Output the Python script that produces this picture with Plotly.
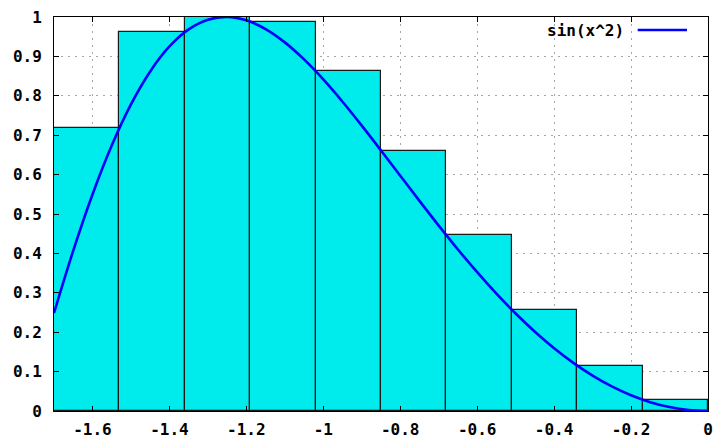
import plotly.graph_objects as go

# Boxes: left edges and heights (each box is 0.17 wide)
box_left = [-1.70, -1.53, -1.36, -1.19, -1.02, -0.85, -0.68, -0.51, -0.34, -0.17]
box_height = [0.719, 0.962, 1.000, 0.988, 0.862, 0.661, 0.446, 0.257, 0.115, 0.029]
box_width = 0.17

# Curve sin(x^2), sampled points
curve_x = [-1.70, -1.65, -1.60, -1.55, -1.50, -1.45, -1.40, -1.35, -1.30, -1.25,
           -1.20, -1.15, -1.10, -1.05, -1.00, -0.95, -0.90, -0.85, -0.80, -0.75,
           -0.70, -0.65, -0.60, -0.55, -0.50, -0.45, -0.40, -0.35, -0.30, -0.25,
           -0.20, -0.15, -0.10, -0.05, 0.00]
curve_y = [0.2489, 0.4069, 0.5494, 0.6736, 0.7781, 0.8619, 0.9252, 0.9685, 0.9929, 1.0000,
           0.9915, 0.9693, 0.9356, 0.8923, 0.8415, 0.7849, 0.7243, 0.6613, 0.5972, 0.5333,
           0.4706, 0.4100, 0.3523, 0.2979, 0.2474, 0.2011, 0.1593, 0.1222, 0.0899, 0.0625,
           0.0400, 0.0225, 0.0100, 0.0025, 0.0000]

x_ticks = [-1.6, -1.4, -1.2, -1.0, -0.8, -0.6, -0.4, -0.2, 0.0]
x_tick_text = ["-1.6", "-1.4", "-1.2", "-1", "-0.8", "-0.6", "-0.4", "-0.2", "0"]
y_ticks = [0, 0.1, 0.2, 0.3, 0.4, 0.5, 0.6, 0.7, 0.8, 0.9, 1.0]
y_tick_text = ["0", "0.1", "0.2", "0.3", "0.4", "0.5", "0.6", "0.7", "0.8", "0.9", "1"]

legend_label = "sin(x^2)"
curve_color = "#0000ff"
box_color = "#00ecec"

font = dict(family="DejaVu Sans Mono", size=16, color="black", weight="bold")

fig = go.Figure()
fig.add_trace(go.Bar(
    x=[l + box_width / 2 for l in box_left],
    y=box_height,
    width=box_width,
    marker=dict(color=box_color, line=dict(color="#1a1a1a", width=1.2)),
    showlegend=False,
    hoverinfo="x+y",
))
fig.add_trace(go.Scatter(
    x=curve_x, y=curve_y, mode="lines",
    line=dict(color=curve_color, width=2.6, shape="spline"),
    name=legend_label, showlegend=False,
))

axis_common = dict(
    showline=True, mirror="allticks", linecolor="black", linewidth=1,
    ticks="inside", ticklen=5, tickcolor="black", tickwidth=1,
    showgrid=True, gridcolor="#a6a6a6", gridwidth=1, griddash="2px,5px",
    zeroline=False, tickfont=font, automargin=False,
)

fig.update_layout(
    width=716, height=439,
    margin=dict(l=54, r=8, t=17, b=28),
    paper_bgcolor="white", plot_bgcolor="white",
    bargap=0,
    xaxis=dict(range=[-1.7, 0], tickmode="array", tickvals=x_ticks,
               ticktext=x_tick_text, ticklabelstandoff=4, **axis_common),
    yaxis=dict(range=[0, 1], tickmode="array", tickvals=y_ticks,
               ticktext=y_tick_text, ticklabelstandoff=8, **axis_common),
    annotations=[dict(
        text=legend_label, xref="paper", yref="paper", x=0.8746, y=0.967,
        xanchor="right", yanchor="middle", showarrow=False, font=font,
    )],
    shapes=[dict(
        type="line", xref="paper", yref="paper", x0=0.8925, x1=0.9679,
        y0=0.967, y1=0.967, line=dict(color=curve_color, width=2.6),
    )],
)

fig.write_html("out.html")
